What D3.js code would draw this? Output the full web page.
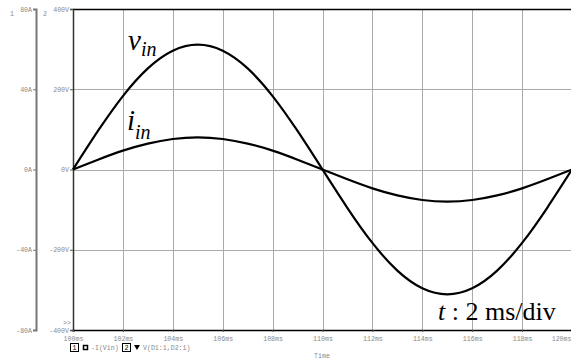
<!DOCTYPE html>
<html>
<head>
<meta charset="utf-8">
<script src="https://cdn.jsdelivr.net/npm/d3@7"></script>
<style>
  body { margin: 0; background: #fff; }
  svg text.tick-lbl { font-family: "Liberation Mono", monospace; font-size: 6.6px; fill: #888; }
</style>
</head>
<body>
<svg width="571" height="360"></svg>
<script>
// time samples (ms), read every 1 ms off the trace
const timeMs = [100,101,102,103,104,105,106,107,108,109,110,111,112,113,114,115,116,117,118,119,120]
const vin = [0,96,183,252,296,311,296,252,183,96,0,-96,-183,-252,-296,-311,-296,-252,-183,-96,0]
const iin = [0,4.9,9.4,12.9,15.2,16,15.2,12.9,9.4,4.9,0,-4.9,-9.4,-12.9,-15.2,-16,-15.2,-12.9,-9.4,-4.9,0]

const timeTicks = [100,102,104,106,108,110,112,114,116,118,120]
const voltTicks = [-400,-200,0,200,400]
const ampTicks = [-80,-40,0,40,80]

const width = 571
const height = 360
const plot = {left: 73, right: 572, top: 9, bottom: 330}

const svg = d3.select('svg')

const x = d3.scaleLinear().domain([100, 120]).range([plot.left, plot.right])
const yV = d3.scaleLinear().domain([-400, 400]).range([plot.bottom, plot.top])
const yA = d3.scaleLinear().domain([-80, 80]).range([plot.bottom, plot.top])

// grid
const grid = svg.append('g').attr('stroke', '#aaa').attr('stroke-width', 1)
grid.selectAll('line.vx')
  .data(timeTicks.slice(1))
  .join('line')
  .attr('x1', d => Math.round(x(d)) + 0.5).attr('x2', d => Math.round(x(d)) + 0.5)
  .attr('y1', plot.top).attr('y2', plot.bottom)
grid.selectAll('line.hy')
  .data([-200, 0, 200])
  .join('line')
  .attr('x1', plot.left).attr('x2', width)
  .attr('y1', d => Math.round(yV(d)) + 0.5).attr('y2', d => Math.round(yV(d)) + 0.5)

// top border
svg.append('line')
  .attr('x1', plot.left).attr('x2', width)
  .attr('y1', plot.top + 0.5).attr('y2', plot.top + 0.5)
  .attr('stroke', '#000').attr('stroke-width', 1.5)

// voltage axis
const vAxis = svg.append('g')
  .attr('transform', `translate(${plot.left},0)`)
  .call(d3.axisLeft(yV).tickValues(voltTicks).tickSize(3).tickFormat(d => d + 'V'))
vAxis.select('.domain').attr('stroke', '#333').attr('stroke-width', 1.5)
vAxis.selectAll('.tick line').attr('stroke', '#555')
vAxis.selectAll('.tick text').attr('class', 'tick-lbl').attr('x', -4)

// current axis
const aAxis = svg.append('g')
  .attr('transform', 'translate(36,0)')
  .call(d3.axisLeft(yA).tickValues(ampTicks).tickSize(3).tickFormat(d => d + 'A'))
aAxis.select('.domain').attr('stroke', '#777').attr('stroke-width', 2)
aAxis.selectAll('.tick line').attr('stroke', '#777')
aAxis.selectAll('.tick text').attr('class', 'tick-lbl').attr('x', -4)

svg.append('text').attr('class', 'tick-lbl').attr('x', 10).attr('y', 16).text('1')
svg.append('text').attr('class', 'tick-lbl').attr('x', 43).attr('y', 16).text('2')
svg.append('text').attr('class', 'tick-lbl').attr('x', 63).attr('y', 325).text('>>')

// time axis
const tAxis = svg.append('g')
  .attr('transform', `translate(0,${plot.bottom})`)
  .call(d3.axisBottom(x).tickValues(timeTicks).tickSize(2).tickFormat(d => d + 'ms'))
tAxis.select('.domain').attr('stroke', '#000').attr('stroke-width', 1.5)
tAxis.selectAll('.tick line').attr('stroke', '#555')
tAxis.selectAll('.tick text').attr('class', 'tick-lbl').attr('y', 6)
  .attr('text-anchor', d => d === 120 ? 'end' : 'middle')
  .attr('dx', d => d === 120 ? -1 : 0)

svg.append('text').attr('class', 'tick-lbl').attr('x', 322).attr('y', 358).attr('text-anchor', 'middle').text('Time')

// legend
const leg = svg.append('g').attr('class', 'legend')
leg.append('rect').attr('x', 70.5).attr('y', 343.5).attr('width', 8).attr('height', 8).attr('fill', 'none').attr('stroke', '#000')
leg.append('text').attr('class', 'tick-lbl').attr('x', 72.5).attr('y', 350).style('fill', '#000').text('1')
leg.append('rect').attr('x', 83.5).attr('y', 345.5).attr('width', 4).attr('height', 4).attr('fill', 'none').attr('stroke', '#000').attr('stroke-width', 1.5)
leg.append('text').attr('class', 'tick-lbl').attr('x', 91).attr('y', 350).text('-I(Vin)')
leg.append('rect').attr('x', 122.5).attr('y', 343.5).attr('width', 8).attr('height', 8).attr('fill', 'none').attr('stroke', '#000')
leg.append('text').attr('class', 'tick-lbl').attr('x', 124.5).attr('y', 350).style('fill', '#000').text('2')
leg.append('path').attr('d', 'M134,345 L140,345 L137,350 Z').attr('fill', '#000')
leg.append('text').attr('class', 'tick-lbl').attr('x', 143).attr('y', 350).text('V(D1:1,D2:1)')

// traces
const line = (yScale, vals) => d3.line()
  .x((d, i) => x(timeMs[i]))
  .y(d => yScale(d))
  .curve(d3.curveNatural)(vals)

svg.append('path').attr('d', line(yV, vin))
  .attr('fill', 'none').attr('stroke', '#000').attr('stroke-width', 2.2)
svg.append('path').attr('d', line(yA, iin))
  .attr('fill', 'none').attr('stroke', '#000').attr('stroke-width', 2.2)

// annotations
const serif = '"Liberation Serif", "Times New Roman", serif'
const vLbl = svg.append('text').attr('x', 128).attr('y', 50).style('font-family', serif).style('font-style', 'italic')
vLbl.append('tspan').style('font-size', '29px').text('v')
vLbl.append('tspan').style('font-size', '20px').attr('dy', 6).text('in')

const iLbl = svg.append('text').attr('x', 127).attr('y', 130).style('font-family', serif).style('font-style', 'italic')
iLbl.append('tspan').style('font-size', '29px').text('i')
iLbl.append('tspan').style('font-size', '20px').attr('dy', 9).text('in')

const tLbl = svg.append('text').attr('x', 438).attr('y', 320).style('font-family', serif).style('font-size', '26px')
tLbl.append('tspan').style('font-style', 'italic').text('t')
tLbl.append('tspan').text(' : 2 ms/div')
</script>
</body>
</html>
